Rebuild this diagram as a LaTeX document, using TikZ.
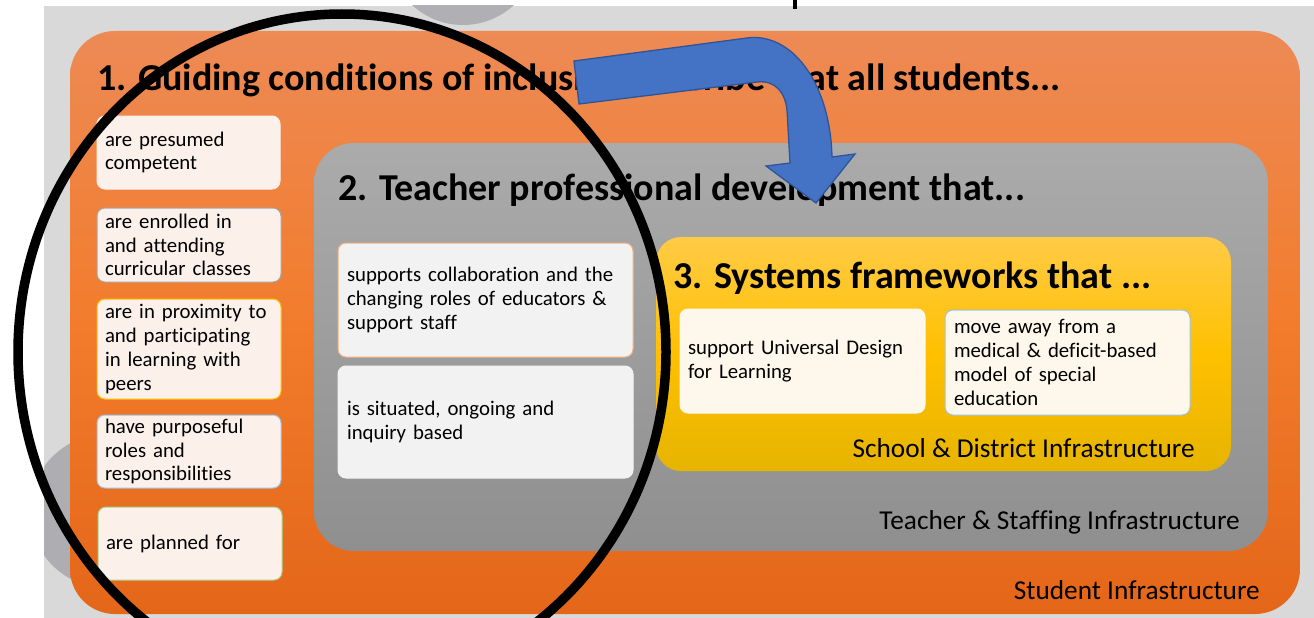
\documentclass[tikz,border=0pt]{standalone}
\usepackage{fontspec}
\setmainfont{Carlito}[Ligatures={NoCommon}]
\definecolor{bgGray}{HTML}{D9D9D9}
\definecolor{circA}{HTML}{B0B0B4}
\definecolor{circB}{HTML}{AEAEB2}
\definecolor{orTop}{HTML}{ED8A55}
\definecolor{orMid}{HTML}{F27C2C}
\definecolor{orBot}{HTML}{E46619}
\definecolor{gyTop}{HTML}{ABABAB}
\definecolor{gyBot}{HTML}{8F8F8F}
\definecolor{ylTop}{HTML}{FFCB46}
\definecolor{ylMid}{HTML}{FFC000}
\definecolor{ylBot}{HTML}{E6B400}
\definecolor{creamL}{HTML}{FBF0EA}
\definecolor{creamY}{HTML}{FDF7EC}
\definecolor{lightG}{HTML}{F2F2F2}
\definecolor{bdGray}{HTML}{A6A6A6}
\definecolor{bdYel}{HTML}{FFC000}
\definecolor{bdBlue}{HTML}{9DC3E6}
\definecolor{bdGreen}{HTML}{A9D18E}
\definecolor{bdOrange}{HTML}{F4B183}
\definecolor{arrFill}{HTML}{4472C4}
\definecolor{arrDraw}{HTML}{2F5597}
\tikzset{
  container/.style={rounded corners=#1, inner sep=0pt, anchor=center},
  itembox/.style={rounded corners=8pt, anchor=center, align=left, inner xsep=8pt, inner ysep=0pt,
    font=\fontsize{20.8}{23.8}\selectfont, line width=1pt},
  titletext/.style={anchor=base west, inner sep=0pt, font=\fontsize{38}{40}\selectfont\bfseries},
  infralabel/.style={anchor=base east, inner sep=0pt, font=\fontsize{27.3}{30}\selectfont},
}
\begin{document}
\begin{tikzpicture}[x=1pt,y=-1pt]
\useasboundingbox (0,0) rectangle (1314,618);
\fill[white] (0,0) rectangle (1314,618);
\fill[bgGray] (44,6) rectangle (1314,618);
\begin{scope}
  \clip (44,6) rectangle (1314,618);
  \fill[circA] (463,-50) circle (75);
  \fill[circB] (107,511) circle (77);
\end{scope}
\draw[line width=3.5pt] (795,0) -- (795,9);

% containers
\node[container=45pt, top color=orTop, bottom color=orBot, middle color=orMid,
      minimum width=1230pt, minimum height=583pt] (student) at (685,322.5) {};
\node[container=40pt, top color=gyTop, bottom color=gyBot,
      minimum width=954pt, minimum height=408pt] (teacher) at (791,347) {};
\node[container=25pt, top color=ylTop, bottom color=ylBot, middle color=ylMid,
      minimum width=575pt, minimum height=234pt] (school) at (943.5,354) {};

% titles
\node[titletext] (t1) at (97,90) {1. Guiding conditions of inclusion describe that all students...};
\node[titletext] (t2) at (338,200) {2. Teacher professional development that...};
\node[titletext] (t3) at (673,288) {3. Systems frameworks that ...};

% left items
\node[itembox, fill=creamL, draw=creamL, minimum width=183pt, minimum height=73pt, text width=167pt]
  (l1) at (188.5,152.5) {are presumed\\competent};
\node[itembox, fill=creamL, draw=bdGray, minimum width=184pt, minimum height=74pt, text width=168pt]
  (l2) at (189,245) {are enrolled in\\and attending\\curricular classes};
\node[itembox, fill=creamL, draw=bdYel, minimum width=184pt, minimum height=100pt, text width=168pt]
  (l3) at (189,349) {are in proximity to\\and participating\\in learning with\\peers};
\node[itembox, fill=creamL, draw=bdBlue, minimum width=184pt, minimum height=73pt, text width=168pt]
  (l4) at (189,451.5) {have purposeful\\roles and\\responsibilities};
\node[itembox, fill=creamL, draw=bdGreen, minimum width=184pt, minimum height=73pt, text width=168pt]
  (l5) at (190,543.5) {are planned for};

% middle items
\node[itembox, inner xsep=9pt, fill=lightG, draw=bdOrange, minimum width=295pt, minimum height=114pt, text width=277pt]
  (m1) at (485.5,300) {supports collaboration and the\\changing roles of educators \&\\support staff};
\node[itembox, inner xsep=9pt, fill=lightG, draw=lightG, minimum width=295pt, minimum height=112pt, text width=277pt]
  (m2) at (485.5,422) {is situated, ongoing and\\inquiry based};

% systems items
\node[itembox, fill=creamY, draw=creamY, minimum width=245pt, minimum height=104pt, text width=229pt]
  (y1) at (802.5,361) {support Universal Design\\for Learning};
\node[itembox, inner xsep=9pt, fill=creamY, draw=bdBlue, minimum width=245pt, minimum height=105pt, text width=227pt]
  (y2) at (1067.5,362.5) {move away from a\\medical \& deficit-based\\model of special\\education};

% infrastructure labels
\node[infralabel] (lbS) at (1195,457) {School \& District Infrastructure};
\node[infralabel] (lbT) at (1240,529) {Teacher \& Staffing Infrastructure};
\node[infralabel] (lbU) at (1260,599) {Student Infrastructure};

% black ellipse
\draw[line width=9.5pt] (342,352) ellipse [x radius=324, y radius=338];

% blue bent arrow
\draw[fill=arrFill, draw=arrDraw, line width=1.3pt, line join=miter]
  (574,61) -- (747,38)
  .. controls (790,32) and (830,80) .. (832,157)
  -- (855,154) -- (816,203) -- (766,166) -- (790,163)
  -- (787,110) .. controls (785,92) and (775,80) .. (757,82)
  -- (579,104) -- cycle;
\end{tikzpicture}
\end{document}
